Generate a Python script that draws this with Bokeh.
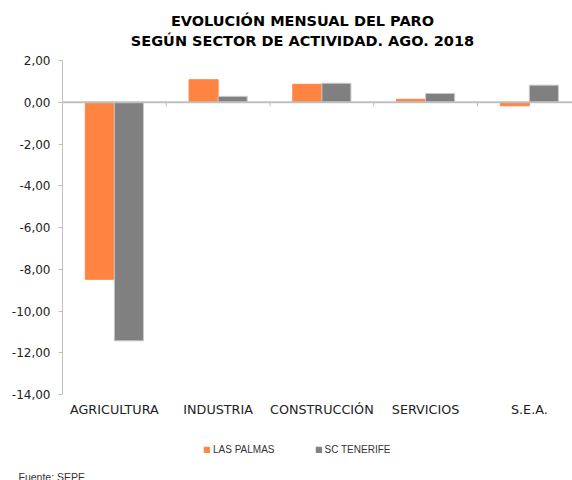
from bokeh.plotting import figure
from bokeh.layouts import column
from bokeh.models import (Range1d, FixedTicker, Legend, LegendItem, Span, Label,
                          CustomJSTickFormatter)
from bokeh.embed import file_html
from bokeh.resources import INLINE

# ---- data ----
categories = ["AGRICULTURA", "INDUSTRIA", "CONSTRUCCIÓN", "SERVICIOS", "S.E.A."]
las_palmas = [-8.48, 1.08, 0.86, 0.14, -0.17]
sc_tenerife = [-11.43, 0.28, 0.91, 0.42, 0.82]
series_names = ["LAS PALMAS", "SC TENERIFE"]
y_ticks = [-14, -12, -10, -8, -6, -4, -2, 0, 2]
title_lines = ["EVOLUCIÓN MENSUAL DEL PARO", "SEGÚN SECTOR DE ACTIVIDAD. AGO. 2018"]
source_note = "Fuente: SEPE"

ORANGE = "#FF8442"
GRAY = "#808080"
AXIS_GRAY = "#BFBFBF"
FONT = "DejaVu Sans"
W = 572
LEFT = 62  # left border of the main chart


def blank(height):
    f = figure(width=W, height=height, output_backend="svg", toolbar_location=None,
               x_axis_location=None, y_axis_location=None,
               min_border_left=0, min_border_right=0,
               min_border_top=0, min_border_bottom=0)
    try:
        f.frame_align = False
        frame_left = 0
    except AttributeError:
        frame_left = LEFT
    # pixel-like ranges: data x equals page x, data y counts down from the top
    f.x_range = Range1d(frame_left, W)
    f.y_range = Range1d(height, 0)
    f.outline_line_color = None
    f.grid.visible = False
    return f, frame_left


# ---- header with the two-line title ----
header, _ = blank(52)
for i, line in enumerate(title_lines):
    header.add_layout(Label(x=302, y=20 + 20 * i, text=line, text_align="center",
                            text_baseline="middle", text_font=FONT,
                            text_font_size="14.5px", text_font_style="bold",
                            text_color="#000000"))

# ---- main chart ----
n = len(categories)
centers = [i + 0.5 for i in range(n)]
boundaries = [i for i in range(1, n)]
bar_w = 0.28
x_lp = [c - bar_w / 2 for c in centers]
x_tf = [c + bar_w / 2 for c in centers]

p = figure(width=W, height=376, x_range=Range1d(0, 4.916), y_range=Range1d(-14, 2),
           output_backend="svg", toolbar_location=None,
           min_border_left=LEFT, min_border_right=0, min_border_top=8, min_border_bottom=34)
p.outline_line_color = None
p.grid.visible = False

p.vbar(x=x_lp, top=las_palmas, bottom=0, width=bar_w, fill_color=ORANGE,
       line_color=ORANGE)
p.vbar(x=x_tf, top=sc_tenerife, bottom=0, width=bar_w, fill_color=GRAY,
       line_color="#C8C8C8")

# zero line and boundary ticks
p.add_layout(Span(location=0, dimension="width", line_color=AXIS_GRAY, line_width=2))
p.segment(x0=boundaries, y0=[0] * len(boundaries), x1=boundaries,
          y1=[-0.2] * len(boundaries), line_color=AXIS_GRAY, line_width=1)

ya = p.yaxis[0]
ya.ticker = FixedTicker(ticks=y_ticks)
ya.formatter = CustomJSTickFormatter(code="return tick.toFixed(2).replace('.', ',');")
ya.axis_line_color = AXIS_GRAY
ya.major_tick_line_color = AXIS_GRAY
ya.major_tick_out = 4
ya.major_tick_in = 0
ya.minor_tick_line_color = None
ya.major_label_text_font = FONT
ya.major_label_text_font_size = "12px"
ya.major_label_text_color = "#222222"
ya.major_label_standoff = 8

xa = p.xaxis[0]
xa.ticker = FixedTicker(ticks=centers)
xa.formatter = CustomJSTickFormatter(args=dict(names=categories),
                                     code="return names[Math.floor(tick)];")
xa.axis_line_color = None
xa.major_tick_line_color = None
xa.minor_tick_line_color = None
xa.major_label_text_font = FONT
xa.major_label_text_font_size = "12.75px"
xa.major_label_text_color = "#222222"
xa.major_label_standoff = 1

# ---- footer with legend and source note ----
footer, f_left = blank(52)
nan = float("nan")
g1 = footer.vbar(x=[nan], top=[nan], width=1, fill_color=ORANGE, line_color=ORANGE)
g2 = footer.vbar(x=[nan], top=[nan], width=1, fill_color=GRAY, line_color=GRAY)
legend = Legend(items=[LegendItem(label=series_names[0], renderers=[g1]),
                       LegendItem(label=series_names[1], renderers=[g2])],
                orientation="horizontal", location=(203 - f_left, 25),
                glyph_width=7, glyph_height=7, label_text_font="Liberation Sans",
                label_text_font_size="10px", label_text_color="#333333",
                label_standoff=3, spacing=40, label_height=10,
                border_line_color=None, background_fill_alpha=0, padding=0, margin=0)
footer.add_layout(legend)
footer.add_layout(Label(x=max(18, f_left + 16), y=48, text=source_note,
                        text_baseline="middle", text_font="Liberation Sans",
                        text_font_size="10.5px", text_color="#333333"))

layout = column(header, p, footer, spacing=0)
open("out.html", "w").write(file_html(layout, INLINE))
